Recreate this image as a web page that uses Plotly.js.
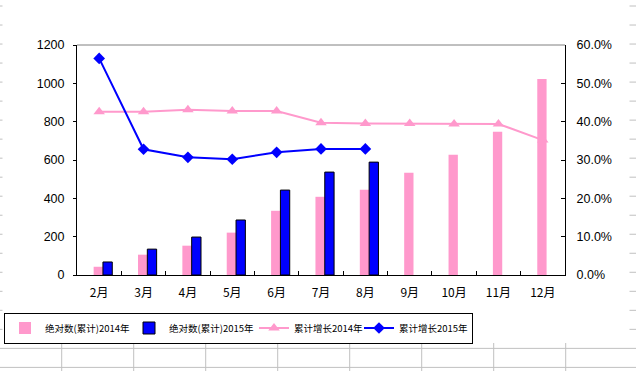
<!DOCTYPE html>
<html>
<head>
<meta charset="utf-8">
<script src="https://cdn.plot.ly/plotly-3.0.1.min.js"></script>
<style>html,body{margin:0;padding:0;background:#fff;}#chart{width:636px;height:371px;}</style>
</head>
<body>
<div id="chart"></div>
<script>
// ---- data ----
var months = ['2月','3月','4月','5月','6月','7月','8月','9月','10月','11月','12月'];
var abs2014 = [43, 106, 153, 221, 335, 408, 445, 533, 627, 747, 1023];
var abs2015 = [68, 135, 198, 287, 443, 537, 589, null, null, null, null];
var growth2014 = [42.6, 42.6, 43.1, 42.8, 42.8, 39.7, 39.5, 39.5, 39.4, 39.4, 35.2];
var growth2015 = [56.5, 32.8, 30.7, 30.2, 32.0, 32.9, 32.9, null, null, null, null];
var seriesNames = ['绝对数(累计)2014年','绝对数(累计)2015年','累计增长2014年','累计增长2015年'];
var leftTicks = [0, 200, 400, 600, 800, 1000, 1200];
var rightTicks = [0, 10, 20, 30, 40, 50, 60];
var rightTickText = rightTicks.map(function(v){ return v.toFixed(1) + '%'; });

// ---- layout geometry ----
var W = 636, H = 371;
var mL = 77, mR = 71, mT = 45, mB = 96;
var pw = W - mL - mR, ph = H - mT - mB;
function px(x){ return (x - mL) / pw; }
function py(y){ return (H - mB - y) / ph; }

var PINK = '#FF99CC', BLUE = '#0000FF';
var cjk = '"Noto Sans CJK SC", "Noto Sans", sans-serif';
var num = '"Liberation Sans", Arial, sans-serif';

var traces = [
  {type:'bar', name:seriesNames[0], x:months, y:abs2014, marker:{color:PINK, line:{width:0}},
   offset:-0.125, width:0.21, yaxis:'y', legendwidth:79},
  {type:'bar', name:seriesNames[1], x:months, y:abs2015, marker:{color:BLUE, line:{color:'#000', width:1}},
   offset:0.085, width:0.21, yaxis:'y', legendwidth:80},
  {type:'scatter', mode:'lines+markers', name:seriesNames[2], x:months, y:growth2014, yaxis:'y2',
   line:{color:PINK, width:2}, marker:{symbol:'triangle-up', size:10, color:PINK}, legendwidth:60},
  {type:'scatter', mode:'lines+markers', name:seriesNames[3], x:months, y:growth2015, yaxis:'y2',
   line:{color:BLUE, width:2}, marker:{symbol:'diamond', size:9, color:BLUE}, legendwidth:68}
];

// spreadsheet grid in the background
var shapes = [];
for (var k = 0; k < 20; k++) {
  var gy = 6 + 19.02 * k;
  shapes.push({type:'line', layer:'below', xref:'paper', yref:'paper', x0:px(0), x1:px(W), y0:py(gy), y1:py(gy), line:{color:'#C0C0C0', width:1}});
}
for (var j = 0; j < 9; j++) {
  var gx = 61.7 + 72 * j;
  shapes.push({type:'line', layer:'below', xref:'paper', yref:'paper', x0:px(gx), x1:px(gx), y0:py(0), y1:py(H), line:{color:'#C0C0C0', width:1}});
}
shapes.push({type:'rect', layer:'below', xref:'paper', yref:'paper', x0:px(2.5), x1:px(629.5), y0:py(0), y1:py(343), line:{width:0}, fillcolor:'#FFFFFF'});
// plot-area top border
shapes.push({type:'line', xref:'paper', yref:'paper', x0:0, x1:1, y0:1, y1:1, line:{color:'#808080', width:1}});

var layout = {
  width: W, height: H,
  margin: {l:mL, r:mR, t:mT, b:mB, pad:0, autoexpand:false},
  paper_bgcolor:'#FFFFFF', plot_bgcolor:'rgba(0,0,0,0)',
  barmode:'overlay',
  showlegend:true,
  font:{family:num, size:12, color:'#000'},
  xaxis:{type:'category', range:[-0.5, 10.5], showline:true, linecolor:'#000', linewidth:1,
         ticks:'inside', tickson:'boundaries', ticklen:4, tickcolor:'#000', showgrid:false, zeroline:false,
         tickfont:{family:cjk, size:12, color:'#000'}, ticklabelstandoff:7},
  yaxis:{range:[0,1200], tickvals:leftTicks, showline:true, linecolor:'#000', linewidth:1,
         ticks:'outside', ticklen:3, tickcolor:'#000', showgrid:false, zeroline:false,
         tickfont:{family:num, size:12.5, color:'#000'}, ticklabelstandoff:6},
  yaxis2:{overlaying:'y', side:'right', range:[0,60], tickmode:'array', tickvals:rightTicks, ticktext:rightTickText,
          showline:true, linecolor:'#000', linewidth:1, ticks:'inside', ticklen:4, tickcolor:'#000',
          showgrid:false, zeroline:false, tickfont:{family:num, size:12.5, color:'#000'}, ticklabelstandoff:8},
  legend:{orientation:'h', xref:'paper', yref:'paper', x:px(4), y:py(312.5), xanchor:'left', yanchor:'top',
          bordercolor:'#000', borderwidth:1, bgcolor:'#FFFFFF', itemwidth:30, traceorder:'normal',
          font:{family:cjk, size:9.5, color:'#000'}},
  shapes: shapes
};

Plotly.newPlot('chart', traces, layout, {displayModeBar:false, staticPlot:true});
</script>
</body>
</html>
